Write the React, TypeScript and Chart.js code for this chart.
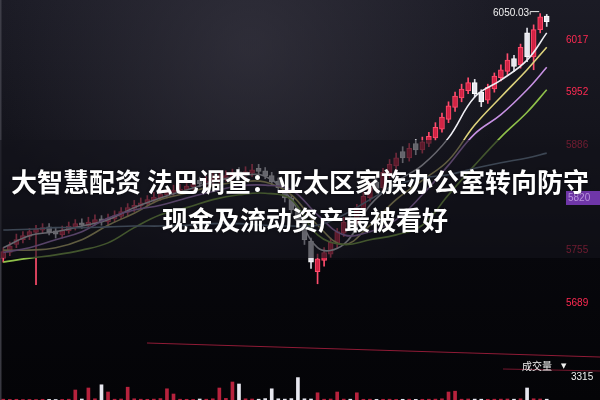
import React, { useEffect, useRef } from 'react';
import { Chart, registerables } from 'chart.js';

Chart.register(...registerables);

// ---- data ----
const open = [5745,5752,5762,5768,5772,5777,5780,5784,5779,5774, 5779,5784,5789,5785,5789,5794,5790,5794,5797,5802, 5807,5810,5813,5817,5820,5824,5827,5828,5830,5834, 5842,5837,5840,5843,5845,5846,5853,5848,5851,5857, 5854,5848,5841,5832,5820,5804,5790,5766,5728,5742, 5750,5763,5776,5795,5788,5806,5820,5840,5833,5850, 5860,5878,5870,5888,5880,5888,5895,5906,5918,5933, 5945,5954,5964,5952,5942,5956,5970,5978,5994,5986, 6026,5996,6030,6047];
const close = [5753,5760,5768,5773,5778,5781,5783,5778,5775,5780, 5785,5788,5786,5790,5793,5790,5795,5798,5803,5808, 5811,5814,5818,5821,5825,5828,5830,5831,5835,5838, 5838,5841,5845,5846,5848,5850,5849,5853,5855,5853, 5848,5840,5833,5820,5805,5792,5768,5740,5744,5752, 5765,5778,5790,5787,5808,5822,5834,5832,5852,5862, 5870,5870,5882,5880,5890,5897,5908,5921,5935,5947, 5956,5964,5950,5940,5958,5972,5980,5992,5984,6008, 5996,6030,6046,6040];
const high = [5758,5765,5775,5778,5782,5786,5788,5788,5783,5785, 5790,5793,5794,5796,5799,5798,5800,5804,5808,5813, 5817,5820,5823,5827,5830,5834,5836,5837,5840,5844, 5846,5847,5851,5852,5854,5856,5858,5859,5862,5862, 5858,5852,5845,5836,5824,5808,5793,5770,5750,5758, 5770,5782,5796,5800,5812,5827,5840,5846,5857,5868, 5876,5884,5888,5893,5896,5902,5914,5926,5940,5952, 5962,5970,5968,5955,5962,5976,5986,6000,5998,6012, 6032,6036,6050.03,6049];
const low = [5740,5748,5758,5764,5768,5712,5776,5774,5770,5770, 5776,5780,5782,5782,5786,5786,5787,5790,5794,5798, 5803,5806,5810,5814,5817,5820,5823,5825,5827,5830, 5834,5833,5836,5839,5841,5842,5845,5844,5847,5849, 5844,5836,5828,5815,5800,5786,5762,5732,5713,5735, 5746,5758,5772,5782,5785,5802,5816,5826,5829,5845, 5855,5864,5866,5874,5876,5884,5892,5902,5914,5928, 5940,5950,5946,5934,5938,5952,5966,5974,5978,5982, 5990,5980,6026,6034];
const volume = [20,15,18,12,15,12,18,15,12,15, 20,250,25,300,30,380,200,20,25,320, 30,20,18,22,35,280,150,20,18,15, 25,20,30,300,40,450,400,30,25,20, 35,280,30,22,35,560,30,25,180,20, 25,200,22,20,180,18,20,15,18,20, 15,18,20,15,18,20,22,30,200,220, 20,25,22,20,18,20,22,25,20,30, 300,30,25,20];

const maIndex = [0,4,8,12,16,20,24,28,32,36,40,44,48,52,56,60,64,68,72,76,80,83];
const ma5 = [5758,5773,5778,5785,5793,5808,5820,5830,5840,5847,5847,5818,5758,5762,5811,5840,5861,5895,5946,5967,5992,6026];
const ma10 = [5755,5755,5758,5768,5786,5801,5818,5826,5835,5840,5840,5824,5786,5762,5786,5818,5842,5867,5911,5946,5980,6008];
const ma20 = [5752,5758,5768,5778,5795,5805,5811,5820,5828,5835,5836,5830,5799,5774,5778,5793,5824,5861,5900,5924,5955,5983];
const ma30 = [5740,5745,5749,5755,5764,5783,5799,5808,5818,5824,5826,5818,5774,5762,5768,5774,5786,5824,5861,5896,5927,5955];
const ma60 = [5780,5781,5783,5783,5784,5785,5785,5786,5788,5788,5786,5785,5786,5799,5818,5836,5845,5849,5857,5864,5870,5876];

const priceTicks = [5689, 5755, 5820, 5886, 5952, 6017];
const currentPrice = 5820;
const highLabel = '6050.03';
const highIndex = 82;
const titleLines = ['大智慧配资 法巴调查：亚太区家族办公室转向防守', '现金及流动资产最被看好'];
const volumeLabel = '成交量';
const volumeValue = '3315';

const days = open.map((_, i) => `D${i + 1}`);

const UP_FILL = 'rgba(210,30,65,0.85)';
const UP_EDGE = '#ff4d6d';
const DOWN_FILL = '#e8e8f0';

const decorPlugin = {
  id: 'decor',
  beforeDraw(chart: any) {
    const { ctx, width, height } = chart;
    ctx.save();
    const g = ctx.createLinearGradient(0, 0, 0, height);
    g.addColorStop(0, '#1b1b25');
    g.addColorStop(0.33, '#14141c');
    g.addColorStop(0.62, '#07070c');
    g.addColorStop(1, '#040407');
    ctx.fillStyle = g;
    ctx.fillRect(0, 0, width, height);
    const r = ctx.createRadialGradient(250, 45, 10, 250, 45, 260);
    r.addColorStop(0, 'rgba(62,60,72,0.55)');
    r.addColorStop(1, 'rgba(62,60,72,0)');
    ctx.fillStyle = r;
    ctx.fillRect(0, 0, width, 260);
    ctx.fillStyle = 'rgba(70,70,80,0.8)';
    ctx.fillRect(0, 0, 1.5, height);
    // pane separators
    ctx.strokeStyle = 'rgba(190,35,70,0.75)';
    ctx.lineWidth = 1.2;
    ctx.beginPath();
    ctx.moveTo(147, 343);
    ctx.lineTo(600, 357);
    ctx.stroke();
    ctx.strokeStyle = 'rgba(190,35,70,0.6)';
    ctx.beginPath();
    ctx.moveTo(503, 369);
    ctx.lineTo(600, 371);
    ctx.stroke();
    ctx.restore();
  },
  afterDraw(chart: any) {
    const { ctx, width, scales } = chart;
    const xs = scales.x;
    const ys = scales.y;
    ctx.save();
    // high marker
    const hx = xs.getPixelForValue(highIndex);
    const hy = ys.getPixelForValue(high[highIndex]) - 2;
    ctx.strokeStyle = '#e8e8e8';
    ctx.lineWidth = 1;
    ctx.beginPath();
    ctx.moveTo(hx - 1, hy);
    ctx.lineTo(hx - 10, hy);
    ctx.lineTo(hx - 10, hy + 3);
    ctx.stroke();
    ctx.fillStyle = '#f2f2f2';
    ctx.font = '10px "Liberation Sans", "DejaVu Sans", sans-serif';
    ctx.textAlign = 'right';
    ctx.textBaseline = 'middle';
    ctx.fillText(highLabel, hx - 11, hy + 2);

    // title band
    ctx.fillStyle = 'rgba(20,20,27,0.62)';
    ctx.fillRect(0, 140, width, 118);

    // current price box
    const cy = ys.getPixelForValue(currentPrice);
    ctx.fillStyle = '#6f36a8';
    ctx.fillRect(566, cy - 7, width - 566, 14);
    ctx.fillStyle = '#b992dc';
    ctx.textAlign = 'left';
    ctx.fillText(String(currentPrice), 568, cy + 0.5);

    // title text
    ctx.fillStyle = '#ffffff';
    ctx.textAlign = 'center';
    ctx.textBaseline = 'middle';
    ctx.font = 'bold 26px "Noto Sans CJK SC", sans-serif';
    ctx.shadowColor = 'rgba(0,0,0,0.6)';
    ctx.shadowBlur = 3;
    ctx.fillText(titleLines[0], 300, 182);
    ctx.fillText(titleLines[1], 305, 220);
    ctx.shadowBlur = 0;

    // volume pane labels
    ctx.font = '10px "Noto Sans CJK SC", sans-serif';
    ctx.fillStyle = '#f0f0f0';
    ctx.textAlign = 'left';
    ctx.fillText(volumeLabel, 522, 366);
    ctx.font = '7px "DejaVu Sans", sans-serif';
    ctx.fillText('▼', 561, 366);
    ctx.font = '10px "Liberation Sans", "DejaVu Sans", sans-serif';
    ctx.fillText(volumeValue, 571, 377);
    ctx.restore();
  },
};

export default function App() {
  const ref = useRef<HTMLCanvasElement | null>(null);

  useEffect(() => {
    if (!ref.current) return;
    const up = open.map((o, i) => close[i] >= o);
    const pts = (vals: number[]) => maIndex.map((idx, k) => ({ x: days[idx], y: vals[k] }));
    const line = (label: string, vals: number[], color: string) => ({
      type: 'line' as const,
      label,
      data: pts(vals),
      borderColor: color,
      borderWidth: 1.6,
      pointRadius: 0,
      tension: 0.4,
      fill: false,
      yAxisID: 'y',
      order: 0,
    });

    const chart = new Chart(ref.current, {
      type: 'bar',
      data: {
        labels: days,
        datasets: [
          line('MA60', ma60, '#7f98ae'),
          line('MA30', ma30, '#8fc04a'),
          line('MA20', ma20, '#c690e2'),
          line('MA10', ma10, '#dcd27c'),
          line('MA5', ma5, '#eeeef4'),
          {
            type: 'bar',
            label: 'body',
            data: open.map((o, i) => [o, close[i]]),
            backgroundColor: up.map((u) => (u ? UP_FILL : DOWN_FILL)),
            borderColor: up.map((u) => (u ? UP_EDGE : '#ffffff')),
            borderWidth: 1,
            borderSkipped: false,
            barThickness: 5,
            grouped: false,
            yAxisID: 'y',
            order: 1,
          } as any,
          {
            type: 'bar',
            label: 'wick',
            data: low.map((l, i) => [l, high[i]]),
            backgroundColor: up.map((u) => (u ? UP_EDGE : '#dcdce4')),
            barThickness: 1,
            grouped: false,
            yAxisID: 'y',
            order: 2,
          } as any,
          {
            type: 'bar',
            label: 'volume',
            data: volume,
            backgroundColor: up.map((u) => (u ? 'rgba(215,40,70,0.85)' : '#e8e8f0')),
            barThickness: 3,
            grouped: false,
            yAxisID: 'yv',
            order: 3,
          } as any,
        ],
      },
      options: {
        animation: false,
        responsive: false,
        devicePixelRatio: 1,
        layout: { padding: 0 },
        plugins: { legend: { display: false }, tooltip: { enabled: false } },
        scales: {
          x: { display: false, offset: true, grid: { display: false } },
          y: {
            position: 'right',
            min: 5568,
            max: 6067,
            grid: { display: false, drawTicks: false },
            border: { display: false },
            afterBuildTicks: (s: any) => {
              s.ticks = priceTicks.map((v) => ({ value: v }));
            },
            afterFit: (s: any) => {
              s.width = 50;
              s.paddingTop = 0;
              s.paddingBottom = 0;
            },
            ticks: {
              color: '#ff2a52',
              padding: 16,
              font: { size: 10, family: '"Liberation Sans", "DejaVu Sans", sans-serif' },
              callback: (v: any) => String(v),
            },
          },
          yv: { display: false, min: 0, max: 10000 },
        },
      },
      plugins: [decorPlugin],
    });
    return () => chart.destroy();
  }, []);

  return (
    <div style={{ position: 'fixed', left: 0, top: 0, width: 600, height: 400, background: '#08080c' }}>
      <canvas ref={ref} width={600} height={400} style={{ display: 'block', width: 600, height: 400 }} />
    </div>
  );
}
